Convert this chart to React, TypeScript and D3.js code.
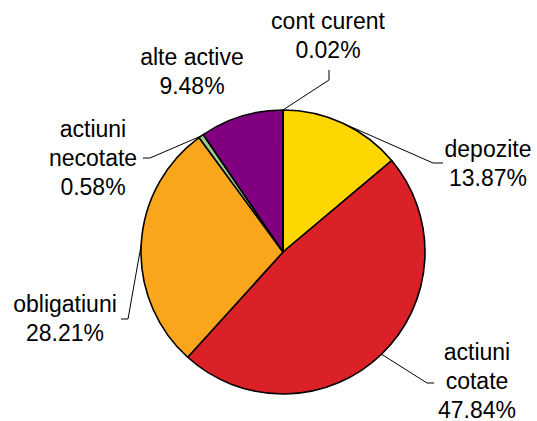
import React, { useEffect, useRef } from "react";
import * as d3 from "d3";

const categories = ["depozite", "actiuni cotate", "obligatiuni", "actiuni necotate", "alte active", "cont curent"];
const values = [13.87, 47.84, 28.21, 0.58, 9.48, 0.02];
const labelLines = [["depozite"], ["actiuni", "cotate"], ["obligatiuni"], ["actiuni", "necotate"], ["alte active"], ["cont curent"]];
const colors = ["#FFD700", "#DA2128", "#F9A61C", "#9BCC8A", "#800080", "#4F81BD"];

// label placement (text centre x, first baseline y, leader elbow and end)
const layout = [
	{ tx: 488, ty: 157, elbow: [433, 163], end: [443, 163] },
	{ tx: 477, ty: 360, elbow: [427, 383], end: [434, 383] },
	{ tx: 65, ty: 312, elbow: [128, 319], end: [121, 319] },
	{ tx: 93, ty: 137, elbow: [150, 158], end: [143, 158] },
	{ tx: 192, ty: 65, elbow: null, end: null },
	{ tx: 328, ty: 29, elbow: [329, 80], end: [329, 70] },
];

const drawChart = (svgRef) => {
	const width = 537,
		height = 421,
		radius = 142,
		cx = 283,
		cy = 252,
		lineH = 29;

	const svg = d3.select(svgRef.current);
	svg.selectAll("*").remove();
	svg.attr("width", width).attr("height", height);

	const pie = d3
		.pie()
		.sort(null)
		.value((d) => d);
	const arcs = pie(values);
	const arc = d3.arc().innerRadius(0).outerRadius(radius);
	const edge = d3.arc().innerRadius(radius).outerRadius(radius);

	const g = svg.append("g").attr("transform", "translate(" + cx + "," + cy + ")");

	g.selectAll("path")
		.data(arcs)
		.enter()
		.append("path")
		.attr("d", arc)
		.attr("fill", (d, i) => colors[i])
		.attr("stroke", "#000")
		.attr("stroke-width", 1.6)
		.attr("stroke-linejoin", "round");

	// leader lines
	arcs.forEach((d, i) => {
		const l = layout[i];
		if (!l.elbow) return;
		const [sx, sy] = edge.centroid(d);
		const pts = [
			[sx + cx, sy + cy],
			l.elbow,
			l.end,
		];
		svg.append("path")
			.attr("d", d3.line()(pts))
			.attr("fill", "none")
			.attr("stroke", "#000")
			.attr("stroke-width", 1);
	});

	// labels
	arcs.forEach((d, i) => {
		const l = layout[i];
		const lines = [...labelLines[i], values[i].toFixed(2) + "%"];
		const t = svg
			.append("text")
			.attr("text-anchor", "middle")
			.attr("font-family", "'Liberation Sans', Arial, sans-serif")
			.attr("font-size", 23)
			.attr("fill", "#000");
		lines.forEach((s, j) => {
			t.append("tspan").attr("x", l.tx).attr("y", l.ty + j * lineH).text(s);
		});
	});
};

const App = () => {
	const svg = useRef(null);

	useEffect(() => {
		drawChart(svg);
	}, []);

	return (
		<div style={{ position: "absolute", left: 0, top: 0 }}>
			<svg ref={svg} aria-label={categories.join(", ")} style={{ display: "block" }} />
		</div>
	);
};

export default App;
